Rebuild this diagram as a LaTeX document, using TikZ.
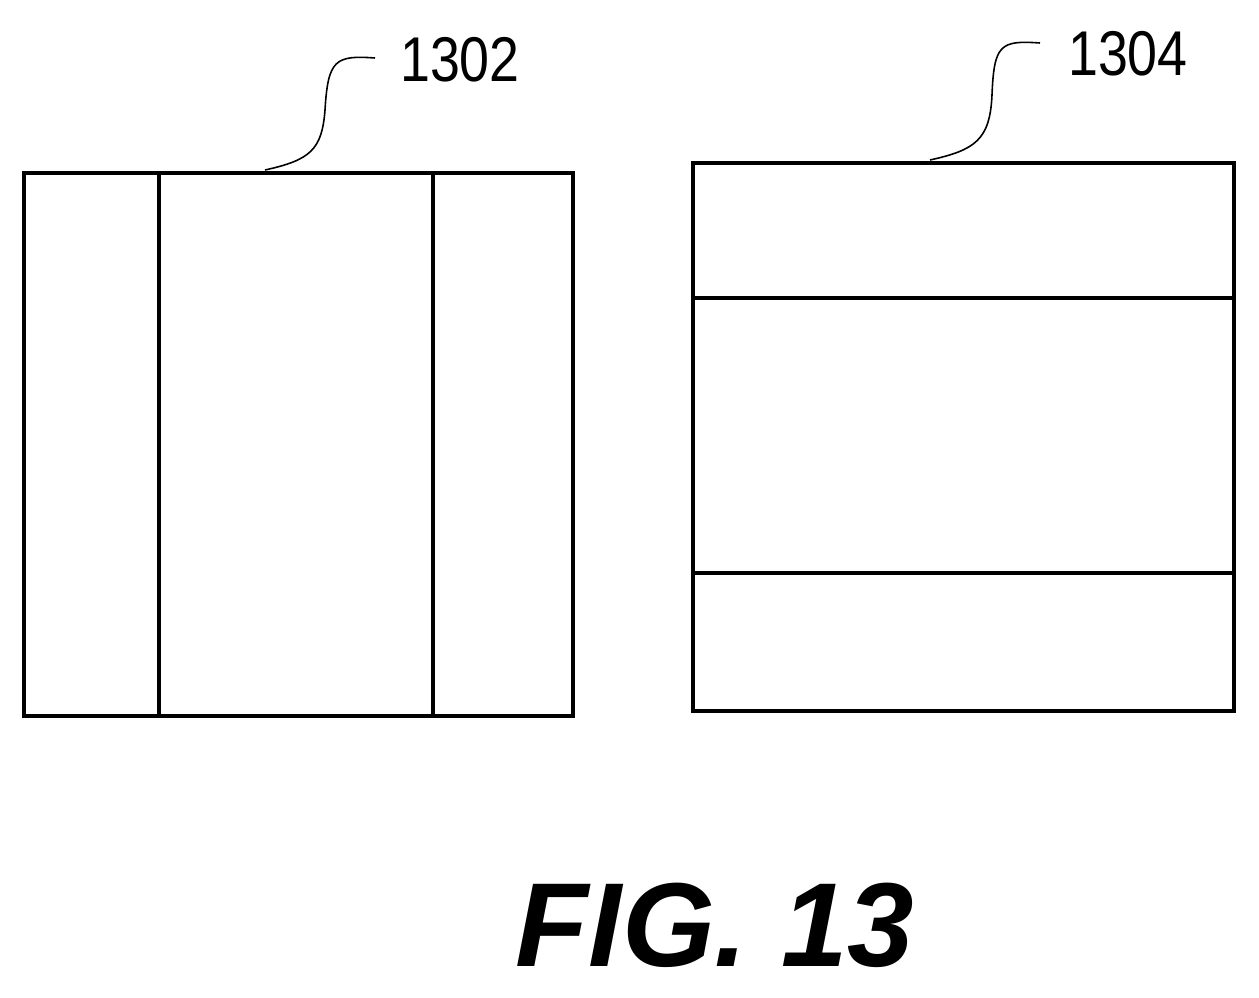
\documentclass[tikz,border=0pt]{standalone}
\usepackage{fontspec}
\setmainfont{Liberation Sans}
\begin{document}
\begin{tikzpicture}[x=0.02cm,y=-0.02cm,line width=2.2pt,
  lbl/.style={font=\fontsize{36}{38}\selectfont,inner sep=0pt,xscale=0.85},
  lead/.style={line width=0.9pt}]
\useasboundingbox (0,0) rectangle (1259,998);
\node[draw,minimum width=549*0.02cm,minimum height=543*0.02cm,anchor=north west,inner sep=0pt] (L) at (22,171) {};
\draw (159,171) -- (159,714);
\draw (433,171) -- (433,714);
\node[draw,minimum width=541*0.02cm,minimum height=548*0.02cm,anchor=north west,inner sep=0pt] (R) at (691,161) {};
\draw (691,298) -- (1232,298);
\draw (691,573) -- (1232,573);
\node[lbl] (t1) at (460,60) {1302};
\node[lbl] (t2) at (1128,54) {1304};
\coordinate (a1) at (265,170);
\coordinate (a2) at (930,160);
\draw[lead] (a1) .. controls (310,160) and (322,150) .. (325,110)
  .. controls (328,60) and (335,55) .. (375,58);
\draw[lead] (a2) .. controls (975,150) and (990,140) .. (992,95)
  .. controls (994,45) and (1000,40) .. (1040,43);
\node[font=\fontsize{68}{72}\selectfont\bfseries\itshape] (fig) at (715,925) {FIG. 13};
\end{tikzpicture}
\end{document}
